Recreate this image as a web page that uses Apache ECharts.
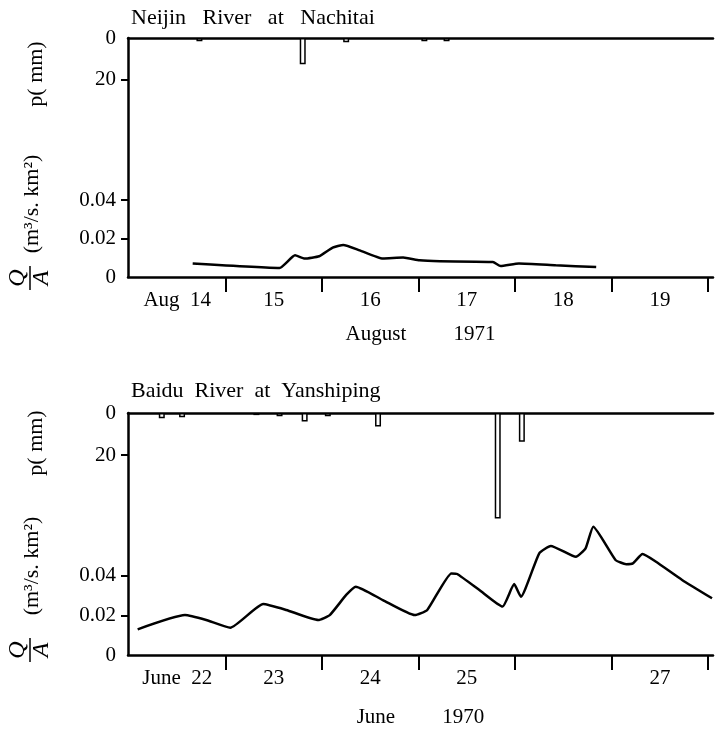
<!DOCTYPE html>
<html>
<head>
<meta charset="utf-8">
<script src="https://cdn.jsdelivr.net/npm/echarts@6/dist/echarts.min.js"></script>
<style>
  html, body { margin: 0; background: #fff; }
  #chart { width: 715px; height: 734px; }
</style>
</head>
<body>
<div id="chart"></div>
<script>
// Neijin River at Nachitai, August 1971 (time in days of August)
const topRainT = [14.73, 15.80, 16.25, 17.06, 17.29];
const topRainP = [1.5, 12.5, 2, 1.5, 1.5];
const topFlowT = [14.66, 15.56, 15.72, 15.82, 15.97, 16.11, 16.22, 16.39, 16.63, 16.84, 17.01, 17.22, 17.77, 17.85, 18.04, 18.42, 18.84];
const topFlowQ = [0.0070, 0.0047, 0.0113, 0.0096, 0.0108, 0.0153, 0.0167, 0.0139, 0.0096, 0.0101, 0.0087, 0.0082, 0.0078, 0.0057, 0.0070, 0.0061, 0.0052];
const topDayTicks = [15, 16, 17, 18, 19, 20];
const topDayLabelPos = [14.5, 15.5, 16.5, 17.5, 18.5, 19.5];
const topDayLabels = ['Aug  14', '15', '16', '17', '18', '19'];

// Baidu River at Yanshiping, June 1970 (time in days of June)
const botRainT = [22.34, 22.55, 23.32, 23.56, 23.82, 24.06, 24.58, 25.82, 26.07];
const botRainP = [2.5, 2, 1, 1.5, 4, 1.5, 6.4, 50, 13.6];
const botFlowT = [22.09, 22.58, 22.80, 23.05, 23.39, 23.63, 23.96, 24.08, 24.25, 24.35, 24.63, 24.96, 25.09, 25.34, 25.40, 25.63, 25.87, 25.99, 26.06, 26.25, 26.37, 26.63, 26.73, 26.81, 27.04, 27.15, 27.22, 27.32, 27.46, 27.73, 28.04];
const botFlowQ = [0.0130, 0.0202, 0.0177, 0.0138, 0.0258, 0.0228, 0.0177, 0.0202, 0.0304, 0.0346, 0.0278, 0.0202, 0.0228, 0.0413, 0.0410, 0.0329, 0.0245, 0.0359, 0.0295, 0.0515, 0.0552, 0.0497, 0.0540, 0.0649, 0.0481, 0.0460, 0.0464, 0.0511, 0.0472, 0.0380, 0.0287];
const botDayTicks = [23, 24, 25, 26, 27, 28];
const botDayLabelPos = [22.5, 23.5, 24.5, 25.5, 27.5];
const botDayLabels = ['June  22', '23', '24', '25', '27'];

const qTicks = [0.02, 0.04];
const qLabels = [0, 0.02, 0.04];
const pTicks = [20];
const pLabels = [0, 20];

const FONT = 'Liberation Serif';
const black = '#000';

const chart = echarts.init(document.getElementById('chart'));

function zip(a, b) {
  return a.map((v, i) => [v, b[i]]);
}

function panelAxes(gi, xmin, xmax, qmax, pmax, dayTicks, labelPos, labels, name, nameGap) {
  const xs = [
    {
      gridIndex: gi, type: 'value', min: xmin, max: xmax,
      axisLine: { lineStyle: { color: black, width: 2.5 } },
      axisTick: { customValues: dayTicks, length: 15, lineStyle: { color: black, width: 2 } },
      axisLabel: {
        customValues: labelPos, margin: 13, color: black, fontFamily: FONT, fontSize: 21,
        formatter: v => labels[labelPos.indexOf(v)]
      },
      splitLine: { show: false },
      name: name, nameLocation: 'middle', nameGap: nameGap,
      nameTextStyle: { color: black, fontFamily: FONT, fontSize: 21 }
    },
    {
      gridIndex: gi, type: 'value', position: 'top', min: xmin, max: xmax,
      axisLine: { lineStyle: { color: black, width: 2.5 } },
      axisTick: { show: false }, axisLabel: { show: false }, splitLine: { show: false }
    }
  ];
  const ys = [
    {
      gridIndex: gi, type: 'value', min: 0, max: qmax,
      axisLine: { show: true, lineStyle: { color: black, width: 2.5 } },
      axisTick: { customValues: qTicks, length: 7, lineStyle: { color: black, width: 2 } },
      axisLabel: {
        customValues: qLabels, margin: 12, color: black, fontFamily: FONT, fontSize: 21,
        formatter: v => v === 0 ? '0' : v.toFixed(2)
      },
      splitLine: { show: false }
    },
    {
      gridIndex: gi, type: 'value', position: 'left', inverse: true, min: 0, max: pmax,
      axisLine: { show: false },
      axisTick: { customValues: pTicks, length: 7, lineStyle: { color: black, width: 2 } },
      axisLabel: { customValues: pLabels, margin: 12, color: black, fontFamily: FONT, fontSize: 21 },
      splitLine: { show: false }
    }
  ];
  return { xs, ys };
}

const p0 = panelAxes(0, 13.99, 20.05, 0.1245, 114.3, topDayTicks, topDayLabelPos, topDayLabels, 'August         1971', 47);
const p1 = panelAxes(1, 21.99, 28.05, 0.1225, 114.7, botDayTicks, botDayLabelPos, botDayLabels, 'June         1970', 52);

function rainSeries(xi, yi, t, p) {
  return {
    type: 'bar', xAxisIndex: xi, yAxisIndex: yi, barWidth: 6,
    data: zip(t, p),
    itemStyle: { color: '#fff', borderColor: black, borderWidth: 1.5 }
  };
}
function flowSeries(xi, yi, t, q) {
  return {
    type: 'line', xAxisIndex: xi, yAxisIndex: yi, data: zip(t, q),
    showSymbol: false, smooth: 0.15,
    lineStyle: { color: black, width: 2.5 }
  };
}

function vtext(x, y, text, font) {
  return {
    type: 'text', x: x, y: y, rotation: Math.PI / 2,
    style: { text: text, fill: black, font: font, align: 'center', verticalAlign: 'middle' }
  };
}
function fraction(y) {
  const f = 'italic 24px "' + FONT + '"';
  return [
    vtext(18, y, 'Q', f),
    { type: 'line', shape: { x1: 30, y1: y - 12, x2: 30, y2: y + 12 }, style: { stroke: black, lineWidth: 1.5 } },
    vtext(42, y, 'A', f)
  ];
}
function htext(x, y, text) {
  return {
    type: 'text', x: x, y: y,
    style: { text: text, fill: black, font: '22px "' + FONT + '"', align: 'left', verticalAlign: 'middle' }
  };
}

const axisFont = '22px "' + FONT + '"';

const option = {
  animation: false,
  backgroundColor: '#fff',
  grid: [
    { left: 128, top: 38, width: 585, height: 239, outerBoundsMode: 'none' },
    { left: 128, top: 413, width: 585, height: 242, outerBoundsMode: 'none' }
  ],
  xAxis: [...p0.xs, ...p1.xs],
  yAxis: [...p0.ys, ...p1.ys],
  series: [
    rainSeries(0, 1, topRainT, topRainP),
    flowSeries(0, 0, topFlowT, topFlowQ),
    rainSeries(2, 3, botRainT, botRainP),
    flowSeries(2, 2, botFlowT, botFlowQ)
  ],
  graphic: [
    htext(131, 18, 'Neijin   River   at   Nachitai'),
    htext(131, 391, 'Baidu  River  at  Yanshiping'),
    vtext(36, 74, 'p( mm)', axisFont),
    vtext(32, 204, '(m³/s. km²)', axisFont),
    ...fraction(278),
    vtext(36, 443, 'p( mm)', axisFont),
    vtext(32, 566, '(m³/s. km²)', axisFont),
    ...fraction(650)
  ]
};

chart.setOption(option);
window.addEventListener('resize', () => chart.resize());
</script>
</body>
</html>
